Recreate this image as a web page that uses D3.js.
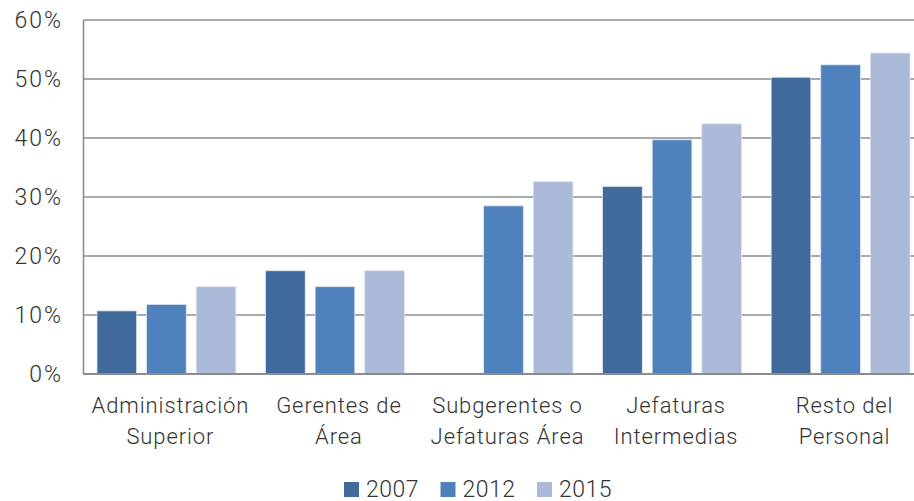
<!DOCTYPE html>
<html>
<head>
<meta charset="utf-8">
<script src="https://cdn.jsdelivr.net/npm/d3@7"></script>
<style>
  body { margin: 0; background: #fff; }
  svg text { font-family: Roboto, "Noto Sans", sans-serif; font-weight: 300; fill: #333; }
</style>
</head>
<body>
<svg id="chart" width="914" height="501"></svg>
<script>
var categories = [
  ['Administración', 'Superior'],
  ['Gerentes de', 'Área'],
  ['Subgerentes o', 'Jefaturas Área'],
  ['Jefaturas', 'Intermedias'],
  ['Resto del', 'Personal']
];
var years = ['2007', '2012', '2015'];
var values2007 = [0.107, 0.175, null, 0.318, 0.503];
var values2012 = [0.118, 0.148, 0.285, 0.397, 0.524];
var values2015 = [0.148, 0.175, 0.326, 0.424, 0.544];
var yTicks = [0, 0.1, 0.2, 0.3, 0.4, 0.5, 0.6];
var colors = ['#3f6a9b', '#4f81bd', '#aabad8'];

var svg = d3.select('#chart');
var series = [values2007, values2012, values2015];
var keys = categories.map(function(c) { return c.join(' '); });

// plot box (right edge runs past the picture, as in the original)
var plotLeft = 83.5, plotRight = 923.5, plotTop = 20, plotBottom = 374;

var x0 = d3.scaleBand().domain(keys).range([plotLeft, plotRight])
  .paddingInner(0.176).paddingOuter(0.08);
var x1 = d3.scaleBand().domain(years).range([0, x0.bandwidth()])
  .paddingInner(0.2).paddingOuter(0);
var y = d3.scaleLinear().domain([0, 0.6]).range([plotBottom, plotTop]);

// gridlines
svg.append('g').selectAll('line')
  .data(yTicks)
  .enter().append('line')
  .attr('x1', plotLeft).attr('x2', 914)
  .attr('y1', function(d) { return y(d); })
  .attr('y2', function(d) { return y(d); })
  .attr('stroke', '#8c8c8c')
  .attr('stroke-width', 1.6);

// y tick labels
svg.append('g').selectAll('text')
  .data(yTicks)
  .enter().append('text')
  .attr('x', 63)
  .attr('y', function(d) { return y(d) + 8; })
  .attr('text-anchor', 'end')
  .style('font-size', '23px')
  .style('letter-spacing', '2px')
  .text(function(d) { return d3.format('.0%')(d); });

// bars
years.forEach(function(year, s) {
  svg.append('g').selectAll('rect')
    .data(series[s].map(function(v, i) { return {key: keys[i], value: v}; })
      .filter(function(d) { return d.value != null; }))
    .enter().append('rect')
    .attr('x', function(d) { return x0(d.key) + x1(year); })
    .attr('width', x1.bandwidth())
    .attr('y', function(d) { return y(d.value); })
    .attr('height', function(d) { return plotBottom - y(d.value); })
    .attr('fill', colors[s])
    .attr('stroke', '#dfe6f1')
    .attr('stroke-width', 0.8);
});

// axis lines
svg.append('line')
  .attr('x1', plotLeft).attr('x2', plotLeft)
  .attr('y1', plotTop).attr('y2', plotBottom)
  .attr('stroke', '#8c8c8c').attr('stroke-width', 1.6);
svg.append('line')
  .attr('x1', plotLeft).attr('x2', 914)
  .attr('y1', plotBottom).attr('y2', plotBottom)
  .attr('stroke', '#8c8c8c').attr('stroke-width', 1.8);

// category labels
var labels = svg.append('g').selectAll('text')
  .data(categories)
  .enter().append('text')
  .attr('text-anchor', 'middle')
  .style('font-size', '22px')
  .style('letter-spacing', '0.9px');
labels.each(function(lines, i) {
  var cx = x0(keys[i]) + x0.bandwidth() / 2 + 4;
  d3.select(this).selectAll('tspan')
    .data(lines)
    .enter().append('tspan')
    .attr('x', cx)
    .attr('y', function(d, j) { return 413 + j * 31; })
    .text(function(d) { return d; });
});

// legend
var legend = svg.append('g').selectAll('g')
  .data(years)
  .enter().append('g')
  .attr('transform', function(d, i) { return 'translate(' + (344 + i * 96.5) + ',0)'; });
legend.append('rect')
  .attr('x', 0).attr('y', 482)
  .attr('width', 15).attr('height', 15)
  .attr('fill', function(d, i) { return colors[i]; });
legend.append('text')
  .attr('x', 22).attr('y', 497)
  .style('font-size', '23px')
  .style('letter-spacing', '0.5px')
  .text(function(d) { return d; });
</script>
</body>
</html>
